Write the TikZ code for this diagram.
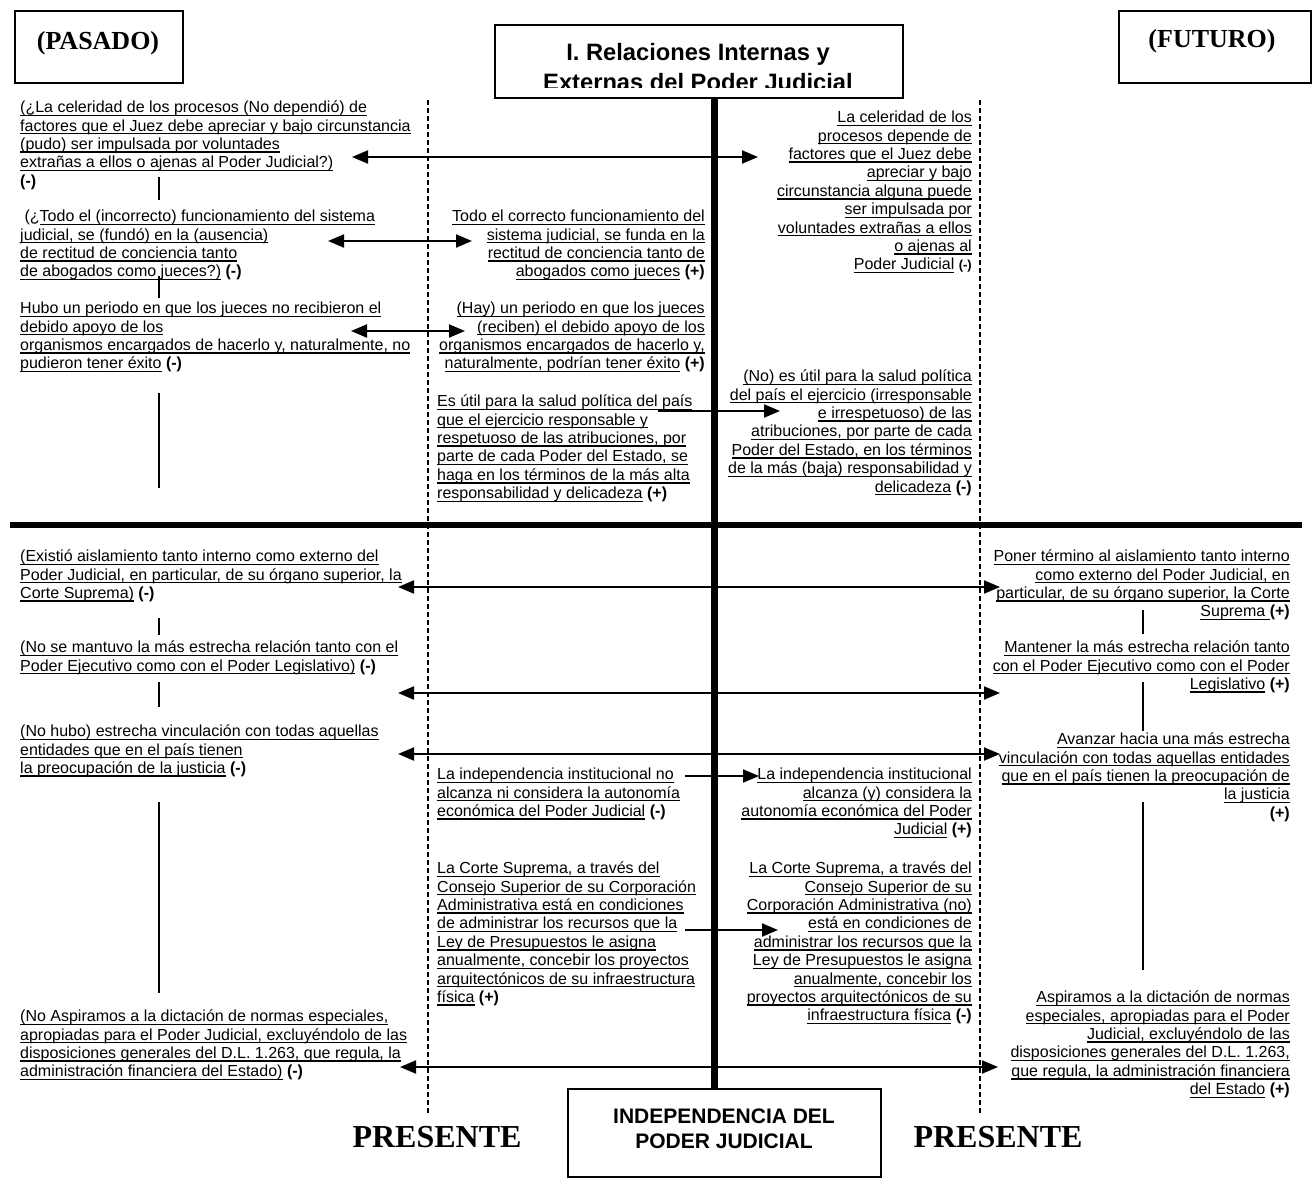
\documentclass[tikz,border=0pt]{standalone}
\usepackage{fontspec}
\setmainfont{Liberation Sans}
\newfontfamily\timesfont{Liberation Serif}
\usetikzlibrary{arrows.meta}

% underline set just below the baseline, crossing descenders
\newsavebox\undlbox
\newcommand\undl[1]{\sbox\undlbox{#1}\rlap{\rule[-3.2pt]{\wd\undlbox}{1.3pt}}\usebox\undlbox}
% fixed height for the first line of every text block
\newcommand\fstrut{\rule{0pt}{14.5pt}}
% bold sign after a statement
\newcommand\signo[1]{\textbf{(#1)}}

\begin{document}
\begin{tikzpicture}[x=1pt,y=-1pt,
  body/.style={inner sep=0pt, font=\fontsize{16}{18.4}\selectfont},
  lcol/.style={body, anchor=north west, align=left},
  rcol/.style={body, anchor=north east, align=right},
  frame/.style={draw, line width=2pt, inner sep=0pt, anchor=north west},
  era/.style={inner sep=0pt, anchor=base, font={\timesfont\bfseries\fontsize{26}{30}\selectfont}},
  present/.style={inner sep=0pt, anchor=base, font={\timesfont\bfseries\fontsize{32}{36}\selectfont}},
  conn/.style={line width=1.8pt},
  twoway/.style={line width=2pt, {Triangle[length=16pt,width=13pt]}-{Triangle[length=16pt,width=13pt]}},
  oneway/.style={line width=2pt, -{Triangle[length=16pt,width=13pt]}},
  timeline/.style={line width=1.5pt, dash pattern=on 5pt off 3pt},
  spine/.style={line width=7pt},
  divider/.style={line width=6pt}]

\useasboundingbox (0,0) rectangle (1314,1183);
\fill[white] (0,0) rectangle (1314,1183);

% ---------- headings ----------
\node[frame, minimum width=168pt, minimum height=72pt] (pasado) at (14,10) {};
\node[era] (pasadotxt) at (98,49) {(PASADO)};
\node[frame, minimum width=192pt, minimum height=72pt] (futuro) at (1118,10) {};
\node[era] (futurotxt) at (1212,47) {(FUTURO)};

\node[frame, minimum width=408pt, minimum height=73pt] (titlebox) at (494,24) {};
\begin{scope}
  \clip (496,26) rectangle (900,87);
  \node[inner sep=0pt, anchor=north, align=center,
        font={\bfseries\fontsize{23.7}{30}\selectfont}] (titletxt) at (698,42)
        {\rule{0pt}{18pt}I. Relaciones Internas y\\Externas del Poder Judicial};
\end{scope}

\node[frame, minimum width=313pt, minimum height=88pt] (indep) at (567,1088) {};
\node[inner sep=0pt, anchor=north, align=center,
      font={\bfseries\fontsize{21}{25}\selectfont}] (indeptxt) at (724,1107)
      {\rule{0pt}{16pt}INDEPENDENCIA DEL\\PODER JUDICIAL};

\node[present] (presL) at (437,1147) {PRESENTE};
\node[present] (presR) at (998,1147) {PRESENTE};

% ---------- axes ----------
\coordinate (tlA) at (428,100);  \coordinate (tlB) at (428,1115);
\coordinate (trA) at (980,100);  \coordinate (trB) at (980,1115);
\draw[timeline] (tlA) -- (tlB);
\draw[timeline] (trA) -- (trB);

\coordinate (spinex) at (714.5,0);
\draw[spine] (spinex |- titlebox.south) -- (spinex |- indep.north);

\coordinate (divL) at (10,525); \coordinate (divR) at (1302,525);
\draw[divider] (divL) -- (divR);

% ---------- upper half ----------
\node[lcol] (L1) at (20,98) {\fstrut\undl{(¿La celeridad de los procesos (No dependió) de}\\
\undl{factores que el Juez debe apreciar y bajo circunstancia}\\
\undl{(pudo) ser impulsada por voluntades}\\
\undl{extrañas a ellos o ajenas al Poder Judicial?)}\\
\signo{-}};

\node[lcol] (L2) at (20,207) {\fstrut\hspace*{4.4pt}(¿\undl{Todo el (incorrecto) funcionamiento del sistema}\\
\undl{judicial, se (fundó) en la (ausencia)}\\
\undl{de rectitud de conciencia tanto}\\
\undl{de abogados como jueces?)} \signo{-}};

\node[lcol] (L3) at (20,299) {\fstrut\undl{Hubo un periodo en que los jueces no recibieron el}\\
\undl{debido apoyo de los}\\
\undl{organismos encargados de hacerlo y, naturalmente, no}\\
\undl{pudieron tener éxito} \signo{-}};

\node[rcol] (M1) at (705,207) {\fstrut\undl{Todo el correcto funcionamiento del}\\
\undl{sistema judicial, se funda en la}\\
\undl{rectitud de conciencia tanto de}\\
\undl{abogados como jueces} \signo{+}};

\node[rcol] (M2) at (705,299) {\fstrut\undl{(Hay) un periodo en que los jueces}\\
\undl{(reciben) el debido apoyo de los}\\
\undl{organismos encargados de hacerlo y,}\\
\undl{naturalmente, podrían tener éxito} \signo{+}};

\node[lcol] (M3) at (437,392) {\fstrut\undl{Es útil para la salud política del país}\\
\undl{que el ejercicio responsable y}\\
\undl{respetuoso de las atribuciones, por}\\
\undl{parte de cada Poder del Estado, se}\\
\undl{haga en los términos de la más alta}\\
\undl{responsabilidad y delicadeza} \signo{+}};

\node[rcol] (R1) at (972,108) {\fstrut\undl{La celeridad de los}\\
\undl{procesos depende de}\\
\undl{factores que el Juez debe}\\
\undl{apreciar y bajo}\\
\undl{circunstancia alguna puede}\\
\undl{ser impulsada por}\\
\undl{voluntades extrañas a ellos}\\
\undl{o ajenas al}\\
\undl{Poder Judicial} {\fontsize{13}{18.4}\selectfont\bfseries(-)}};

\node[rcol] (R2) at (972,367) {\fstrut\undl{(No) es útil para la salud política}\\
\undl{del país el ejercicio (irresponsable}\\
\undl{e irrespetuoso) de las}\\
\undl{atribuciones, por parte de cada}\\
\undl{Poder del Estado, en los términos}\\
\undl{de la más (baja) responsabilidad y}\\
\undl{delicadeza} \signo{-}};

% ---------- lower half ----------
\node[lcol] (L4) at (20,547) {\fstrut\undl{(Existió aislamiento tanto interno como externo del}\\
\undl{Poder Judicial, en particular, de su órgano superior, la}\\
\undl{Corte Suprema)} \signo{-}};

\node[lcol] (L5) at (20,638) {\fstrut\undl{(No se mantuvo la más estrecha relación tanto con el}\\
\undl{Poder Ejecutivo como con el Poder Legislativo)} \signo{-}};

\node[lcol] (L6) at (20,722) {\fstrut\undl{(No hubo) estrecha vinculación con todas aquellas}\\
\undl{entidades que en el país tienen}\\
\undl{la preocupación de la justicia} \signo{-}};

\node[lcol] (L7) at (20,1007) {\fstrut\undl{(No Aspiramos a la dictación de normas especiales,}\\
\undl{apropiadas para el Poder Judicial, excluyéndolo de las}\\
\undl{disposiciones generales del D.L. 1.263, que regula, la}\\
\undl{administración financiera del Estado)} \signo{-}};

\node[rcol] (F1) at (1290,547) {\fstrut\undl{Poner término al aislamiento tanto interno}\\
\undl{como externo del Poder Judicial, en}\\
\undl{particular, de su órgano superior, la Corte}\\
\undl{Suprema }\signo{+}};

\node[rcol] (F2) at (1290,638) {\fstrut\undl{Mantener la más estrecha relación tanto}\\
\undl{con el Poder Ejecutivo como con el Poder}\\
\undl{Legislativo} \signo{+}};

\node[rcol] (F3) at (1290,730) {\fstrut\undl{Avanzar hacia una más estrecha}\\
\undl{vinculación con todas aquellas entidades}\\
\undl{que en el país tienen la preocupación de}\\
\undl{la justicia}\\
\signo{+}};

\node[rcol] (F4) at (1290,988) {\fstrut\undl{Aspiramos a la dictación de normas}\\
\undl{especiales, apropiadas para el Poder}\\
\undl{Judicial, excluyéndolo de las}\\
\undl{disposiciones generales del D.L. 1.263,}\\
\undl{que regula, la administración financiera}\\
\undl{del Estado} \signo{+}};

\node[lcol] (M4) at (437,765) {\fstrut\undl{La independencia institucional no}\\
\undl{alcanza ni considera la autonomía}\\
\undl{económica del Poder Judicial} \signo{-}};

\node[lcol] (M5) at (437,859) {\fstrut\undl{La Corte Suprema, a través del}\\
\undl{Consejo Superior de su Corporación}\\
\undl{Administrativa está en condiciones}\\
\undl{de administrar los recursos que la}\\
\undl{Ley de Presupuestos le asigna}\\
\undl{anualmente, concebir los proyectos}\\
\undl{arquitectónicos de su infraestructura}\\
\undl{física} \signo{+}};

\node[rcol] (R3) at (972,765) {\fstrut\undl{La independencia institucional}\\
\undl{alcanza (y) considera la}\\
\undl{autonomía económica del Poder}\\
\undl{Judicial} \signo{+}};

\node[rcol] (R4) at (972,859) {\fstrut\undl{La Corte Suprema, a través del}\\
\undl{Consejo Superior de su}\\
\undl{Corporación Administrativa (no)}\\
\undl{está en condiciones de}\\
\undl{administrar los recursos que la}\\
\undl{Ley de Presupuestos le asigna}\\
\undl{anualmente, concebir los}\\
\undl{proyectos arquitectónicos de su}\\
\undl{infraestructura física} \signo{-}};

% ---------- links inside the past and future columns ----------
\coordinate (pa1) at (159,177); \coordinate (pb1) at (159,200);
\coordinate (pa2) at (159,276); \coordinate (pb2) at (159,298);
\coordinate (pa3) at (159,393); \coordinate (pb3) at (159,488);
\coordinate (pa4) at (159,618); \coordinate (pb4) at (159,635);
\coordinate (pa5) at (159,682); \coordinate (pb5) at (159,707);
\coordinate (pa6) at (159,802); \coordinate (pb6) at (159,993);
\foreach \i in {1,...,6} \draw[conn] (pa\i) -- (pb\i);

\coordinate (fa1) at (1143,610); \coordinate (fb1) at (1143,634);
\coordinate (fa2) at (1143,682); \coordinate (fb2) at (1143,731);
\coordinate (fa3) at (1143,802); \coordinate (fb3) at (1143,970);
\foreach \i in {1,...,3} \draw[conn] (fa\i) -- (fb\i);

% ---------- arrows ----------
\coordinate (a1l) at (352,157);  \coordinate (a1r) at (758,157);
\coordinate (a2l) at (328,241);  \coordinate (a2r) at (472,241);
\coordinate (a3l) at (351,331);  \coordinate (a3r) at (465,331);
\coordinate (a4l) at (658,411);  \coordinate (a4r) at (780,411);
\coordinate (a5l) at (398,587);  \coordinate (a5r) at (1000,587);
\coordinate (a6l) at (398,693);  \coordinate (a6r) at (1000,693);
\coordinate (a7l) at (398,754);  \coordinate (a7r) at (1000,754);
\coordinate (a8l) at (685,776);  \coordinate (a8r) at (759,776);
\coordinate (a9l) at (685,930);  \coordinate (a9r) at (778,930);
\coordinate (a10l) at (400,1067); \coordinate (a10r) at (998,1067);

\draw[twoway] (a1l) -- (a1r);
\draw[twoway] (a2l) -- (a2r);
\draw[twoway] (a3l) -- (a3r);
\draw[oneway] (a4l) -- (a4r);
\draw[twoway] (a5l) -- (a5r);
\draw[twoway] (a6l) -- (a6r);
\draw[twoway] (a7l) -- (a7r);
\draw[oneway] (a8l) -- (a8r);
\draw[oneway] (a9l) -- (a9r);
\draw[twoway] (a10l) -- (a10r);

\end{tikzpicture}
\end{document}
